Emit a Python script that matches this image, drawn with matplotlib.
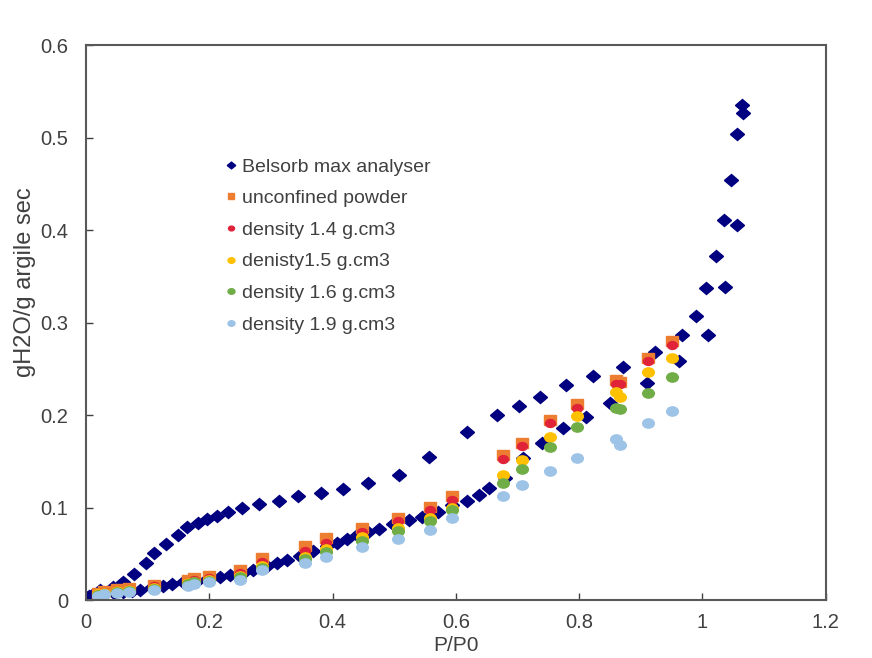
import matplotlib
matplotlib.use('Agg')
import matplotlib.pyplot as plt
from matplotlib.markers import MarkerStyle
from matplotlib.transforms import Affine2D

plt.rcParams['font.family'] = ['Liberation Sans', 'DejaVu Sans']

# Belsorb isotherm: adsorption branch then desorption branch
belsorb_x = [0.0, 0.005, 0.01, 0.02, 0.03, 0.045, 0.06, 0.075, 0.088, 0.107, 0.125, 0.139,
             0.157, 0.180, 0.196, 0.217, 0.233, 0.255, 0.271, 0.293, 0.310, 0.326, 0.347,
             0.368, 0.391, 0.407, 0.423, 0.439, 0.457, 0.475, 0.498, 0.524, 0.545, 0.571,
             0.593, 0.618, 0.637, 0.653, 0.679, 0.709, 0.739, 0.773, 0.811, 0.850, 0.910,
             0.962, 1.009, 1.036, 1.056,
             1.064, 1.065, 1.056, 1.046, 1.035, 1.022, 1.005, 0.989, 0.966, 0.923, 0.871,
             0.822, 0.778, 0.736, 0.702, 0.666, 0.618, 0.556, 0.508, 0.458, 0.417, 0.381,
             0.344, 0.313, 0.281, 0.253, 0.230, 0.212, 0.196, 0.182, 0.164, 0.149, 0.130,
             0.110, 0.097, 0.078, 0.060, 0.044, 0.023]
belsorb_y = [0.003, 0.004, 0.005, 0.006, 0.007, 0.008, 0.009, 0.010, 0.011, 0.014, 0.015, 0.017,
             0.020, 0.021, 0.023, 0.025, 0.027, 0.029, 0.033, 0.037, 0.040, 0.043, 0.048,
             0.053, 0.058, 0.062, 0.066, 0.070, 0.074, 0.077, 0.082, 0.087, 0.090, 0.095,
             0.103, 0.107, 0.114, 0.121, 0.132, 0.153, 0.170, 0.186, 0.198, 0.213, 0.235,
             0.258, 0.287, 0.338, 0.405,
             0.535, 0.527, 0.504, 0.454, 0.411, 0.372, 0.337, 0.307, 0.286, 0.268, 0.252,
             0.242, 0.232, 0.220, 0.210, 0.200, 0.182, 0.155, 0.135, 0.126, 0.120, 0.116,
             0.112, 0.107, 0.104, 0.100, 0.095, 0.091, 0.088, 0.083, 0.079, 0.070, 0.061,
             0.051, 0.040, 0.028, 0.020, 0.014, 0.011]

# relative pressures shared by the sample measurements
p_rel = [0.02, 0.03, 0.05, 0.07, 0.11, 0.165, 0.175, 0.20, 0.25, 0.285, 0.355, 0.39,
         0.447, 0.506, 0.558, 0.593, 0.676, 0.708, 0.752, 0.796, 0.859, 0.867, 0.912, 0.950]

unconfined = [0.008, 0.010, 0.012, 0.013, 0.016, 0.022, 0.024, 0.026, 0.032, 0.045, 0.058, 0.067,
              0.078, 0.089, 0.101, 0.113, 0.157, 0.170, 0.195, 0.212, 0.238, 0.236, 0.262, 0.280]
dens_14 = [0.007, 0.009, 0.011, 0.012, 0.015, 0.020, 0.022, 0.024, 0.029, 0.041, 0.053, 0.062,
           0.074, 0.085, 0.097, 0.108, 0.152, 0.166, 0.191, 0.208, 0.234, 0.233, 0.258, 0.276]
dens_15 = [0.006, 0.008, 0.010, 0.011, 0.013, 0.018, 0.020, 0.022, 0.026, 0.037, 0.047, 0.055,
           0.068, 0.078, 0.089, 0.100, 0.135, 0.151, 0.176, 0.199, 0.225, 0.220, 0.246, 0.262]
dens_16 = [0.005, 0.007, 0.009, 0.010, 0.012, 0.017, 0.019, 0.021, 0.025, 0.035, 0.044, 0.052,
           0.064, 0.075, 0.085, 0.097, 0.127, 0.142, 0.165, 0.187, 0.208, 0.206, 0.224, 0.241]
dens_19 = [0.004, 0.006, 0.008, 0.009, 0.011, 0.015, 0.017, 0.019, 0.022, 0.033, 0.040, 0.047,
           0.057, 0.066, 0.076, 0.089, 0.112, 0.124, 0.140, 0.154, 0.174, 0.168, 0.191, 0.204]


def wide(m):
    # slightly flattened markers
    return MarkerStyle(m, transform=Affine2D().scale(1.2, 0.95))


fig = plt.figure(figsize=(8.72, 6.58), dpi=100)
ax = fig.add_axes([0.0986, 0.0881, 0.8484, 0.8435])

ax.plot(belsorb_x, belsorb_y, ls='none', marker=wide('D'), color='#000080', markersize=6,
        label='Belsorb max analyser')
ax.plot(p_rel, unconfined, ls='none', marker=wide('s'), color='#ED7D31', markersize=7,
        label='unconfined powder')
ax.plot(p_rel, dens_14, ls='none', marker=wide('o'), color='#E02339', markersize=6,
        label='density 1.4 g.cm3')
ax.plot(p_rel, dens_15, ls='none', marker=wide('o'), color='#FFC000', markersize=7,
        label='denisty1.5 g.cm3')
ax.plot(p_rel, dens_16, ls='none', marker=wide('o'), color='#70AD47', markersize=7,
        label='density 1.6 g.cm3')
ax.plot(p_rel, dens_19, ls='none', marker=wide('o'), color='#9DC3E6', markersize=7,
        label='density 1.9 g.cm3')

ax.set_xlim(0, 1.2)
ax.set_ylim(0, 0.6)
ax.set_xticks([0, 0.2, 0.4, 0.6, 0.8, 1.0, 1.2])
ax.set_xticklabels(['0', '0.2', '0.4', '0.6', '0.8', '1', '1.2'])
ax.set_yticks([0, 0.1, 0.2, 0.3, 0.4, 0.5, 0.6])
ax.set_yticklabels(['0', '0.1', '0.2', '0.3', '0.4', '0.5', '0.6'])
ax.tick_params(direction='in', length=5, width=1, color='#404040',
               labelsize=14.5, labelcolor='#404040')
ax.tick_params(axis='y', pad=13)
ax.tick_params(axis='x', pad=9)
for s in ax.spines.values():
    s.set_color('#595959')
    s.set_linewidth(1.5)

ax.set_xlabel('P/P0', fontsize=15, color='#404040', labelpad=3)
ax.set_ylabel('gH2O/g argile sec', fontsize=17, color='#404040')
ax.yaxis.set_label_coords(-0.067, 0.573)

ax.legend(loc='upper left', bbox_to_anchor=(0.178, 0.814), frameon=False, fontsize=14,
          markerscale=0.6, handlelength=0.4, handletextpad=0.35, labelspacing=0.72,
          labelcolor='#404040', borderpad=0)

fig.savefig('out.png', dpi=100, facecolor='white')
